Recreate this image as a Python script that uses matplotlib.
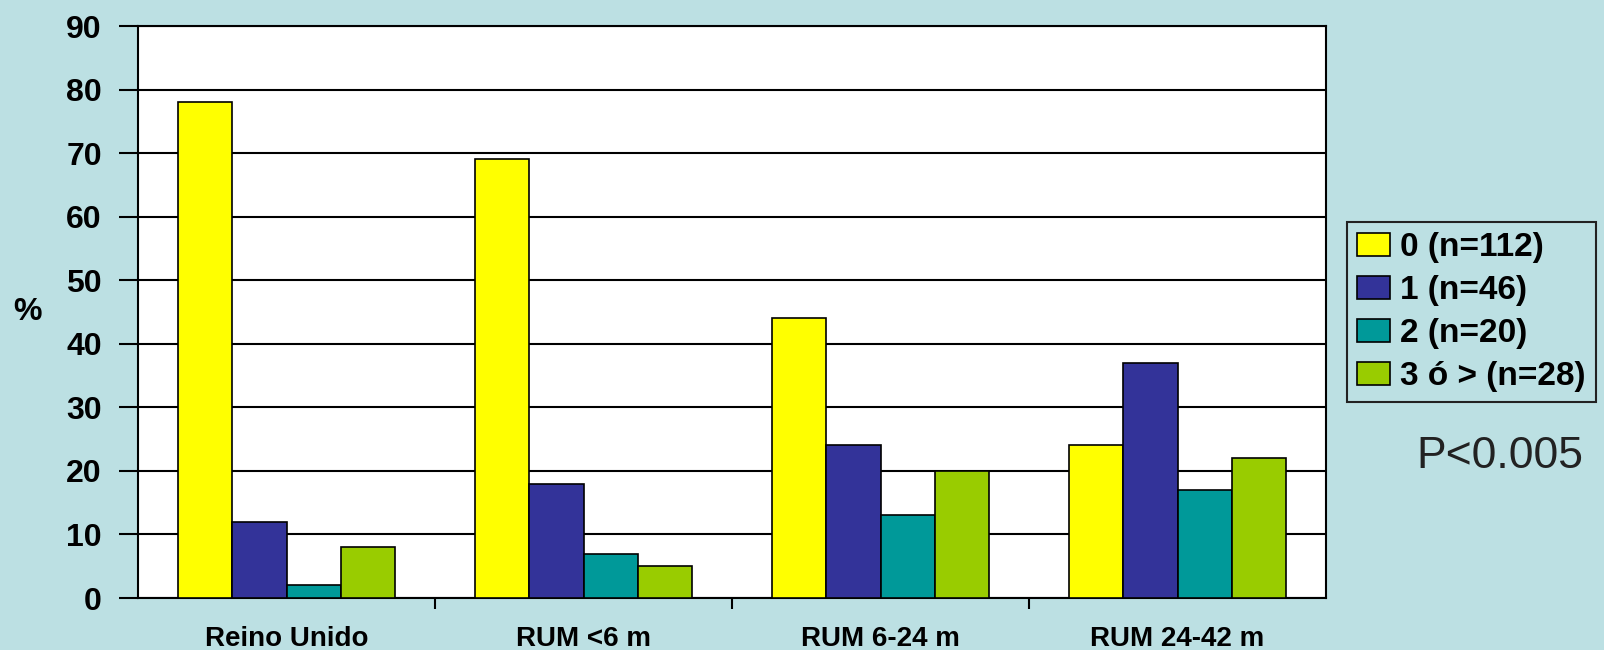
import numpy as np
import matplotlib.pyplot as plt

groups = ["Reino Unido", "RUM <6 m", "RUM 6-24 m", "RUM 24-42 m"]
series = ["0 (n=112)", "1 (n=46)", "2 (n=20)", "3 ó > (n=28)"]
vals_0 = [78, 69, 44, 24]
vals_1 = [12, 18, 24, 37]
vals_2 = [2, 7, 13, 17]
vals_3 = [8, 5, 20, 22]
colors = ["#FFFF00", "#333399", "#009999", "#99CC00"]
yticks = [0, 10, 20, 30, 40, 50, 60, 70, 80, 90]

bg = "#BCE0E3"
plt.rcParams["font.family"] = ["Liberation Sans", "DejaVu Sans"]

fig = plt.figure(figsize=(16.04, 6.5), dpi=100, facecolor=bg)
W, H = 1604, 650
ax = fig.add_axes([138 / W, (H - 598) / H, (1326 - 138) / W, (598 - 26) / H])
ax.set_facecolor("white")

x = np.arange(len(groups))
w = 0.182
for i, (vals, c, lab) in enumerate(zip([vals_0, vals_1, vals_2, vals_3], colors, series)):
    ax.bar(x + (i - 1.5) * w, vals, w, color=c, edgecolor="black", linewidth=1.2,
           label=lab, zorder=3)

ax.set_xlim(-0.5, len(groups) - 0.5)
ax.set_ylim(0, 90)
ax.set_yticks(yticks)
ax.yaxis.grid(True, color="black", linewidth=1.5, zorder=0)
ax.tick_params(axis="y", length=14, width=1.5, pad=12, labelsize=23)
for t in ax.get_yticklabels():
    t.set_fontweight("bold")

ax.set_xticks(x)
ax.set_xticklabels(groups, fontsize=20, fontweight="bold")
ax.set_xticks(np.arange(0.5, len(groups) - 0.5, 1.0), minor=True)
ax.tick_params(axis="x", which="major", length=0, pad=20)
ax.tick_params(axis="x", which="minor", length=8, width=1.5, direction="out")

for s in ax.spines.values():
    s.set_color("black")
    s.set_linewidth(1.5)

ax.set_ylabel("%", fontsize=23, fontweight="bold", rotation=0, labelpad=28, va="center")

leg = fig.legend(loc="upper left", bbox_to_anchor=(1347 / W, 1 - 222 / H),
                 prop={"weight": "bold", "size": 24},
                 frameon=True, fancybox=False, edgecolor="#222222",
                 facecolor=bg, framealpha=1, handlelength=1.0, handleheight=0.7,
                 handletextpad=0.3, labelspacing=0.36, borderpad=0.3,
                 borderaxespad=0)
leg.get_frame().set_linewidth(1.5)

fig.text(1500 / W, 1 - 456 / H, "P<0.005", fontsize=32, color="#222222",
         ha="center", va="center")

fig.savefig("out.png", dpi=100, facecolor=bg)
